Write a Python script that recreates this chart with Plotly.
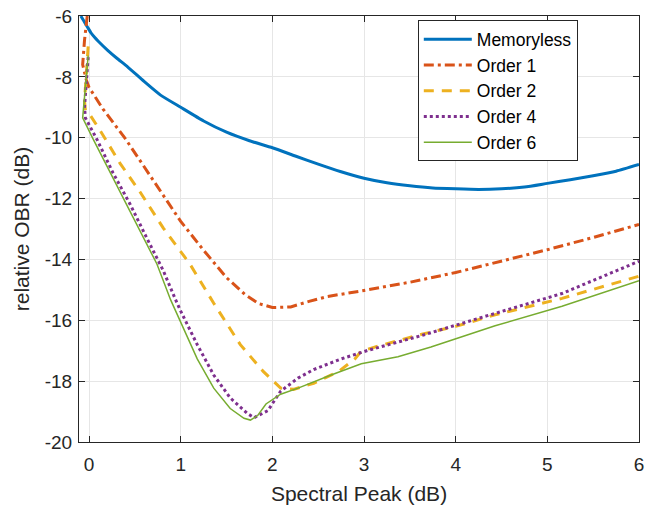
import plotly.graph_objects as go

# ---- data ----
mem_x = [-0.09, -0.06, -0.02, 0.02, 0.06, 0.1, 0.2, 0.3, 0.42, 0.6, 0.78, 1.0, 1.25, 1.5, 1.75,
         2.0, 2.25, 2.5, 2.75, 3.0, 3.25, 3.5, 3.75, 4.0, 4.25, 4.5, 4.75, 5.0, 5.25, 5.5, 5.75, 6.0]
mem_y = [-6.0, -6.15, -6.35, -6.55, -6.7, -6.83, -7.12, -7.38, -7.67, -8.15, -8.6, -9.0, -9.45,
         -9.82, -10.1, -10.33, -10.6, -10.87, -11.12, -11.33, -11.48, -11.58, -11.65, -11.68, -11.7,
         -11.68, -11.62, -11.5, -11.38, -11.25, -11.1, -10.88]

o1_x = [-0.02, -0.05, -0.07, -0.03, 0.0, 0.15, 0.4, 0.63, 0.85, 1.0, 1.25, 1.5, 1.7, 1.85, 2.0,
        2.2, 2.4, 2.6, 3.0, 3.5, 4.0, 4.5, 5.0, 5.5, 6.0]
o1_y = [-6.0, -6.8, -7.6, -8.1, -8.35, -9.05, -10.05, -11.1, -12.1, -12.75, -13.7, -14.6, -15.15,
        -15.45, -15.58, -15.56, -15.38, -15.22, -15.02, -14.75, -14.43, -14.06, -13.68, -13.28, -12.85]

o2_x = [-0.01, -0.03, -0.05, -0.04, 0.01, 0.12, 0.34, 0.56, 0.81, 1.1, 1.36, 1.65, 1.9, 2.09, 2.23,
        2.45, 2.72, 2.9, 2.97, 3.19, 3.63, 4.0, 4.43, 5.16, 6.0]
o2_y = [-7.0, -8.0, -8.8, -9.1, -9.25, -9.76, -10.85, -11.8, -12.97, -14.15, -15.44, -16.8, -17.68,
        -18.23, -18.27, -18.07, -17.69, -17.27, -17.01, -16.82, -16.46, -16.2, -15.82, -15.28, -14.55]

o4_x = [-0.01, -0.03, -0.05, -0.04, 0.09, 0.26, 0.45, 0.63, 0.81, 0.94, 1.0, 1.18, 1.36, 1.54,
        1.73, 1.8, 1.95, 2.09, 2.28, 2.45, 2.75, 3.04, 3.63, 4.2, 5.16, 6.0]
o4_y = [-7.35, -8.3, -9.0, -9.35, -10.08, -11.15, -12.2, -13.3, -14.37, -15.3, -15.7, -16.8, -17.8,
        -18.55, -19.07, -19.2, -18.97, -18.33, -17.9, -17.62, -17.27, -16.99, -16.5, -15.98, -15.12, -14.06]

o6_x = [-0.01, -0.04, -0.06, -0.07, 0.05, 0.23, 0.37, 0.56, 0.74, 0.89, 1.0, 1.18, 1.36, 1.54,
        1.69, 1.76, 1.84, 1.93, 2.09, 2.28, 2.64, 2.97, 3.37, 3.73, 4.43, 5.16, 6.0]
o6_y = [-7.3, -8.3, -9.0, -9.35, -10.08, -11.15, -12.0, -13.1, -14.15, -15.33, -16.08, -17.27,
        -18.23, -18.9, -19.22, -19.28, -19.13, -18.75, -18.43, -18.23, -17.8, -17.43, -17.2, -16.88,
        -16.18, -15.54, -14.7]

x_ticks = [0, 1, 2, 3, 4, 5, 6]
y_ticks = [-20, -18, -16, -14, -12, -10, -8, -6]
y_tick_text = ["-20", "-18", "-16", "-14", "-12", "-10", "-8", "-6"]

FONT = "Liberation Sans, Arial, Helvetica"

fig = go.Figure()
fig.add_trace(go.Scatter(x=mem_x, y=mem_y, mode="lines", name="Memoryless",
                         line=dict(color="#0072BD", width=3, shape="spline", smoothing=0.5)))
fig.add_trace(go.Scatter(x=o1_x, y=o1_y, mode="lines", name="Order 1",
                         line=dict(color="#D95319", width=3, dash="10px,4px,3px,4px")))
fig.add_trace(go.Scatter(x=o2_x, y=o2_y, mode="lines", name="Order 2",
                         line=dict(color="#EDB120", width=3, dash="10px,8px")))
fig.add_trace(go.Scatter(x=o4_x, y=o4_y, mode="lines", name="Order 4",
                         line=dict(color="#7E2F8E", width=3, dash="3px,3px")))
fig.add_trace(go.Scatter(x=o6_x, y=o6_y, mode="lines", name="Order 6",
                         line=dict(color="#77AC30", width=1.5)))

axis_common = dict(showline=True, linecolor="#262626", linewidth=1, mirror="ticks",
                   ticks="inside", ticklen=6, tickcolor="#262626",
                   showgrid=True, gridcolor="#E6E6E6", gridwidth=1, zeroline=False,
                   ticklabeloverflow="allow",
                   tickfont=dict(family=FONT, size=19, color="#262626"))

fig.update_layout(
    width=660, height=512,
    margin=dict(l=79, r=21, t=6, b=70),
    paper_bgcolor="white", plot_bgcolor="white",
    font=dict(family=FONT, color="#262626"),
    xaxis=dict(range=[-0.11, 6], tickvals=x_ticks, ticklabelstandoff=5,
               title=dict(text="Spectral Peak (dB)", font=dict(family=FONT, size=21, color="#262626"),
                          standoff=12),
               **axis_common),
    yaxis=dict(range=[-20, -6], tickvals=y_ticks, ticktext=y_tick_text, ticklabelstandoff=2,
               title=dict(text="relative OBR (dB)", font=dict(family=FONT, size=21, color="#262626"),
                          standoff=9),
               **axis_common),
    legend=dict(x=0.605, y=0.99, xanchor="left", yanchor="top",
                bgcolor="white", bordercolor="#262626", borderwidth=1,
                font=dict(family=FONT, size=17.5, color="#000000"), tracegroupgap=0,
                itemwidth=48),
    showlegend=True,
)

fig.write_html("out.html", config={"displayModeBar": False},
               post_script="document.body.style.margin='0px';")
